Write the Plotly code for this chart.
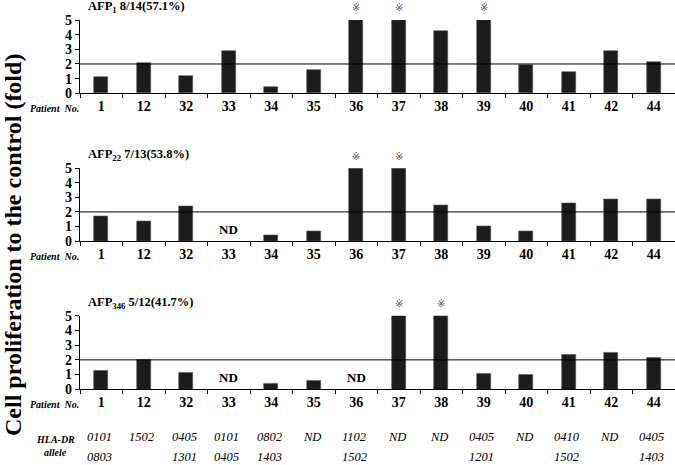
import plotly.graph_objects as go

W, H = 675, 465

patients = ["1", "12", "32", "33", "34", "35", "36", "37", "38", "39", "40", "41", "42", "44"]

afp1_values = [1.1, 2.05, 1.18, 2.88, 0.41, 1.59, 5.0, 5.0, 4.25, 5.0, 1.91, 1.45, 2.86, 2.15]
afp22_values = [1.70, 1.33, 2.39, None, 0.39, 0.69, 5.0, 5.0, 2.45, 1.01, 0.69, 2.57, 2.87, 2.85]
afp346_values = [1.26, 2.02, 1.15, None, 0.36, 0.58, None, 5.0, 5.0, 1.09, 0.97, 2.38, 2.49, 2.13]

panel_titles = ["AFP<sub>1</sub> 8/14(57.1%)", "AFP<sub>22</sub> 7/13(53.8%)", "AFP<sub>346</sub> 5/12(41.7%)"]
significant = [["36", "37", "39"], ["36", "37"], ["37", "38"]]
threshold = 2

hla_row1 = ["0101", "1502", "0405", "0101", "0802", "ND", "1102", "ND", "ND", "0405", "ND", "0410", "ND", "0405"]
hla_row2 = ["0803", "", "1301", "0405", "1403", "", "1502", "", "", "1201", "", "1502", "", "1403"]

y_ticks = [0, 1, 2, 3, 4, 5]

SERIF = "Liberation Serif"


def px(x):
    return x / W


def py(y):
    return 1 - y / H


# panel pixel extents (top = value 5, bottom = value 0)
panels_px = [(20, 93.3), (168.3, 241), (315.7, 389.3)]
series = [afp1_values, afp22_values, afp346_values]

fig = go.Figure()
annotations = []
shapes = []

for i, (vals, (top, bot)) in enumerate(zip(series, panels_px)):
    n = i + 1
    xa = "x" if n == 1 else f"x{n}"
    ya = "y" if n == 1 else f"y{n}"
    fig.add_trace(go.Bar(
        x=patients, y=vals, xaxis=xa, yaxis=ya,
        marker=dict(color="#1c1c1c", line=dict(color="#555", width=0.6)),
        width=0.33, showlegend=False, hoverinfo="skip",
    ))
    axkey = "xaxis" if n == 1 else f"xaxis{n}"
    aykey = "yaxis" if n == 1 else f"yaxis{n}"
    fig.update_layout(**{
        axkey: dict(
            domain=[px(80), 1], anchor=ya, type="category",
            categoryorder="array", categoryarray=patients,
            range=[-0.5, len(patients) - 0.5],
            showline=True, linecolor="black", linewidth=1.2,
            ticks="outside", tickson="boundaries", ticklen=4, tickcolor="black",
            tickfont=dict(family=SERIF, size=14, color="black", weight="bold"),
            showgrid=False, zeroline=False, automargin=False,
        ),
        aykey: dict(
            domain=[py(bot), py(top)], anchor=xa, range=[0, 5],
            tickvals=y_ticks, showline=True, linecolor="black", linewidth=1.2,
            ticks="outside", ticklen=4, tickcolor="black",
            tickfont=dict(family=SERIF, size=14, color="black", weight="bold"),
            showgrid=False, zeroline=False, automargin=False,
        ),
    })
    # threshold line
    shapes.append(dict(type="line", xref=f"{xa} domain", yref=ya, x0=0, x1=1,
                       y0=threshold, y1=threshold, line=dict(color="black", width=1)))
    # panel title
    annotations.append(dict(
        text=f"<b>{panel_titles[i]}</b>", xref="paper", yref="paper",
        x=px(86), y=py(top - 13), xanchor="left", yanchor="middle", showarrow=False,
        font=dict(family=SERIF, size=12.5, color="black"),
    ))
    # Patient No. label
    annotations.append(dict(
        text="<b><i>Patient  No.</i></b>", xref="paper", yref="paper",
        x=px(81), y=py(bot + 15), xanchor="right", yanchor="middle", showarrow=False,
        font=dict(family=SERIF, size=10, color="black"),
    ))
    # significance marks and ND labels (x given as category index)
    for k, (p, v) in enumerate(zip(patients, vals)):
        if p in significant[i]:
            annotations.append(dict(
                text="※", xref=xa, yref=ya, x=k, y=v, yshift=12, showarrow=False,
                xanchor="center", yanchor="middle",
                font=dict(family="DejaVu Sans", size=10, color="#555"),
            ))
        if v is None:
            annotations.append(dict(
                text="<b>ND</b>", xref=xa, yref=ya, x=k, y=0.8, showarrow=False,
                xanchor="center", yanchor="middle",
                font=dict(family=SERIF, size=13, color="black"),
            ))

# HLA-DR allele rows
for k, (a1, a2) in enumerate(zip(hla_row1, hla_row2)):
    for txt, ypix in ((a1, 437), (a2, 457)):
        if txt:
            annotations.append(dict(
                text=f"<i>{txt}</i>", xref="x3", yref="paper", x=k, y=py(ypix),
                xanchor="center", yanchor="middle", xshift=-2,
                showarrow=False, font=dict(family=SERIF, size=12.5, color="black"),
            ))

annotations.append(dict(text="<b><i>HLA-DR</i></b>", xref="paper", yref="paper",
                        x=px(55), y=py(439), xanchor="center", yanchor="middle",
                        showarrow=False, font=dict(family=SERIF, size=10, color="black")))
annotations.append(dict(text="<b><i>allele</i></b>", xref="paper", yref="paper",
                        x=px(55), y=py(452), xanchor="center", yanchor="middle",
                        showarrow=False, font=dict(family=SERIF, size=10, color="black")))

# y-axis title
annotations.append(dict(
    text="<b>Cell proliferation to the control (fold)</b>", xref="paper", yref="paper",
    x=px(13), y=py(245), textangle=-90, xanchor="center", yanchor="middle",
    showarrow=False, font=dict(family=SERIF, size=24, color="black"),
))

fig.update_layout(
    width=W, height=H, autosize=False,
    margin=dict(l=0, r=0, t=0, b=0, autoexpand=False),
    paper_bgcolor="white", plot_bgcolor="white",
    annotations=annotations, shapes=shapes, bargap=0,
)

fig.write_html("out.html", config={"displayModeBar": False},
               post_script="document.body.style.margin='0';")
